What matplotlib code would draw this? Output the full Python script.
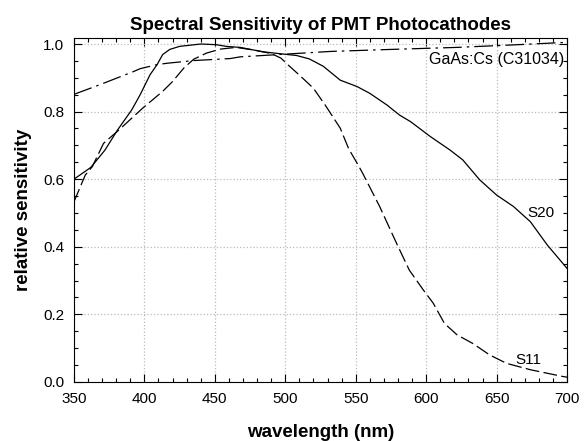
import matplotlib
matplotlib.use('Agg')
import matplotlib.pyplot as plt
from matplotlib.ticker import MultipleLocator
import numpy as np

plt.rcParams['font.family'] = ['Liberation Sans', 'DejaVu Sans']

# S20 photocathode (solid)
s20_nm = [350, 360, 362, 372, 381, 391, 397, 404, 409, 413, 418, 425, 440, 451, 458,
          468, 484, 499, 508, 517, 527, 539, 551, 560, 572, 581, 589, 603, 617, 626,
          638, 650, 662, 674, 686, 700]
s20_val = [0.600, 0.629, 0.635, 0.686, 0.746, 0.805, 0.850, 0.909, 0.939, 0.969, 0.984,
           0.993, 1.000, 0.998, 0.993, 0.990, 0.977, 0.970, 0.966, 0.956, 0.934, 0.893,
           0.874, 0.854, 0.820, 0.790, 0.770, 0.726, 0.686, 0.657, 0.598, 0.553, 0.519,
           0.474, 0.405, 0.336]

# S11 photocathode (dashed)
s11_nm = [350, 358, 363, 371, 382, 399, 413, 420, 428, 435, 444, 454, 465, 478, 490,
          497, 502, 510, 520, 529, 539, 545, 551, 555, 567, 579, 588, 598, 605, 613,
          622, 633, 645, 657, 674, 697, 700]
s11_val = [0.533, 0.612, 0.637, 0.706, 0.746, 0.811, 0.860, 0.889, 0.929, 0.955, 0.973,
           0.985, 0.990, 0.982, 0.972, 0.958, 0.938, 0.908, 0.869, 0.815, 0.751, 0.690,
           0.647, 0.617, 0.519, 0.410, 0.331, 0.272, 0.233, 0.173, 0.139, 0.114, 0.080,
           0.055, 0.036, 0.016, 0.014]

# GaAs:Cs (C31034) photocathode (dash-dot)
gaas_nm = [350, 368, 392, 397, 409, 416, 435, 461, 468, 496, 532, 575, 622, 660, 700]
gaas_val = [0.851, 0.879, 0.918, 0.927, 0.939, 0.943, 0.951, 0.957, 0.962, 0.969,
            0.978, 0.984, 0.990, 0.997, 1.005]

fig = plt.figure(figsize=(5.87, 4.41), dpi=100)
ax = fig.add_axes([0.126, 0.134, 0.840, 0.780])

ax.plot(s20_nm, s20_val, color='black', lw=0.9, ls='-')
ax.plot(s11_nm, s11_val, color='black', lw=0.9, ls=(0, (11, 3.5)))
ax.plot(gaas_nm, gaas_val, color='black', lw=0.9, ls=(0, (15, 4, 2, 4)))

ax.text(672, 0.50, 'S20', fontsize=11, va='center', ha='left')
ax.text(663, 0.065, 'S11', fontsize=11, va='center', ha='left')
ax.text(698, 0.955, 'GaAs:Cs (C31034)', fontsize=11.5, va='center', ha='right')

ax.set_xlim(350, 700)
ax.set_ylim(0, 1.018)
ax.xaxis.set_major_locator(MultipleLocator(50))
ax.xaxis.set_minor_locator(MultipleLocator(10))
ax.yaxis.set_major_locator(MultipleLocator(0.2))
ax.yaxis.set_minor_locator(MultipleLocator(0.05))
ax.yaxis.set_major_formatter(matplotlib.ticker.FormatStrFormatter('%.1f'))
ax.tick_params(which='both', direction='in', top=True, right=True, labelsize=11)
ax.tick_params(which='major', length=6, width=0.8, pad=7)
ax.tick_params(which='minor', length=3, width=0.8)
ax.grid(True, which='major', color='#bbbbbb', ls=':', lw=0.9)

ax.set_title('Spectral Sensitivity of PMT Photocathodes', fontsize=13.5, fontweight='bold', pad=6)
ax.set_xlabel('wavelength (nm)', fontsize=13.5, fontweight='bold', labelpad=13)
ax.set_ylabel('relative sensitivity', fontsize=13.5, fontweight='bold', labelpad=8)

fig.savefig('out.png', dpi=100)
